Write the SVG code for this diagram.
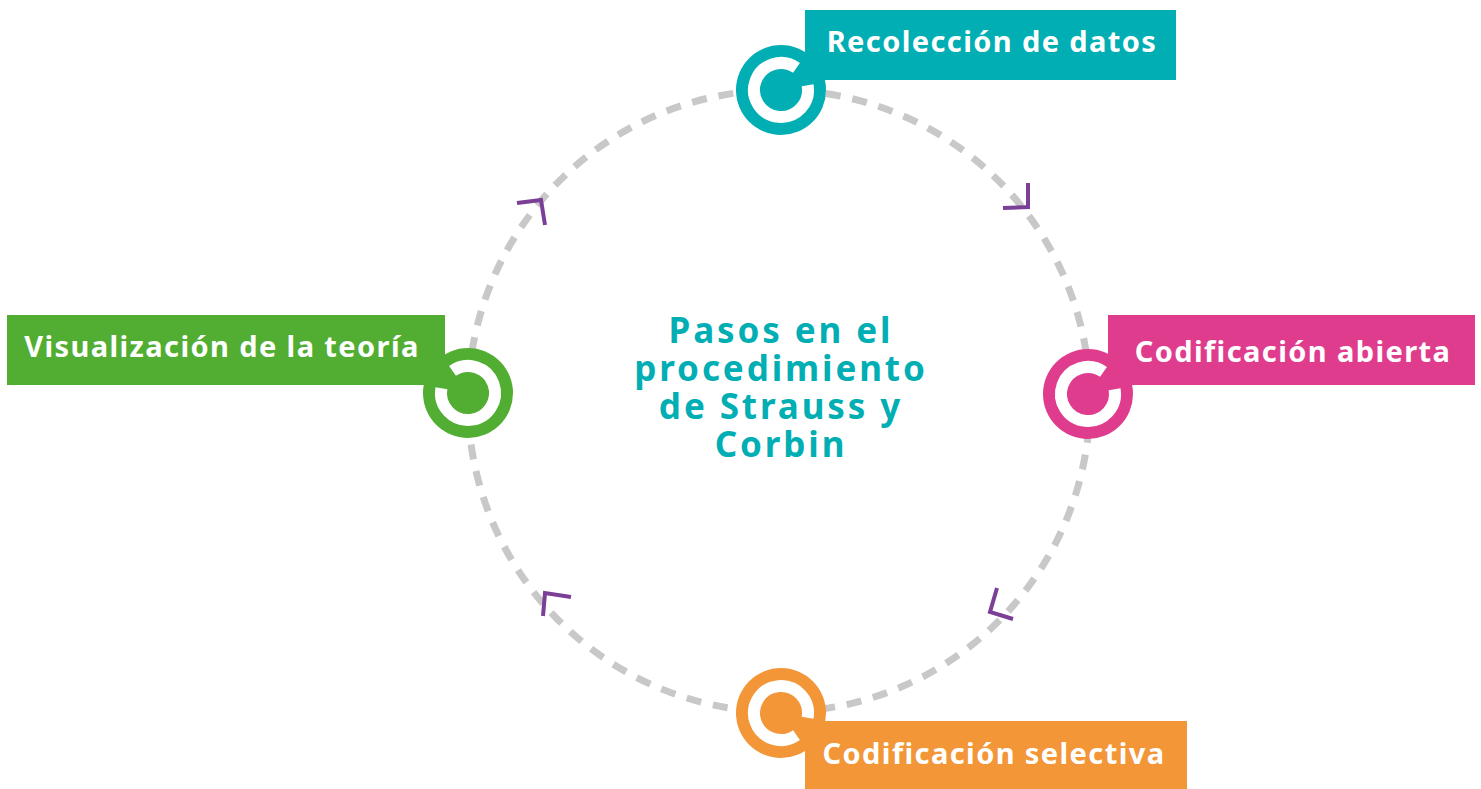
<svg xmlns="http://www.w3.org/2000/svg" width="1481" height="789" viewBox="0 0 1481 789">
<style>
.lbl{font-family:"Noto Sans","Liberation Sans",sans-serif;font-weight:700;font-size:29px;letter-spacing:1.4px;fill:#ffffff;text-anchor:middle}
.title{font-family:"Noto Sans","Liberation Sans",sans-serif;font-weight:700;font-size:35px;letter-spacing:2.9px;fill:#00AEB3;text-anchor:middle}
.dash{fill:none;stroke:#C8C8C8;stroke-width:7;stroke-dasharray:15 12}
.chev{fill:none;stroke:#7B3F98;stroke-width:4;stroke-linejoin:miter;stroke-linecap:butt}
</style>
<defs>
<path id="ring" d="M 26.59 -4.69 A 27 27 0 1 1 15.49 -22.12" fill="none" stroke="#ffffff" stroke-width="12"/>
</defs>
<rect width="1481" height="789" fill="#ffffff"/>
<g id="connectors">
<circle class="dash" cx="779" cy="401" r="311"/>
<polyline class="chev" points="517,203 541,200 545,225"/>
<polyline class="chev" points="1028,183 1028,207 1003,208"/>
<polyline class="chev" points="997,588 990,612 1013,619"/>
<polyline class="chev" points="571,597 545,593 543,616"/>
</g>
<g id="center-title">
<text class="title"><tspan x="781" y="343">Pasos en el</tspan><tspan x="781" y="381">procedimiento</tspan><tspan x="781" y="419">de Strauss y</tspan><tspan x="781" y="457">Corbin</tspan></text>
</g>
<g id="node-recoleccion">
<rect x="805" y="10" width="371" height="70" fill="#00AEB3"/>
<g transform="translate(781,90)"><circle r="45" fill="#00AEB3"/><use href="#ring"/></g>
<text class="lbl" x="992" y="52">Recolección de datos</text>
</g>
<g id="node-abierta">
<rect x="1108" y="315" width="367" height="70" fill="#E03C8E"/>
<g transform="translate(1088,394)"><circle r="45" fill="#E03C8E"/><use href="#ring"/></g>
<text class="lbl" x="1293" y="362">Codificación abierta</text>
</g>
<g id="node-selectiva">
<rect x="805" y="721" width="382" height="68" fill="#F29637"/>
<g transform="translate(781,713) scale(1,-1)"><circle r="45" fill="#F29637"/><use href="#ring"/></g>
<text class="lbl" x="994" y="764">Codificación selectiva</text>
</g>
<g id="node-visualizacion">
<rect x="7" y="315" width="438" height="70" fill="#52AE32"/>
<g transform="translate(468,393) scale(-1,1)"><circle r="45" fill="#52AE32"/><use href="#ring"/></g>
<text class="lbl" x="222" y="357">Visualización de la teoría</text>
</g>
</svg>
